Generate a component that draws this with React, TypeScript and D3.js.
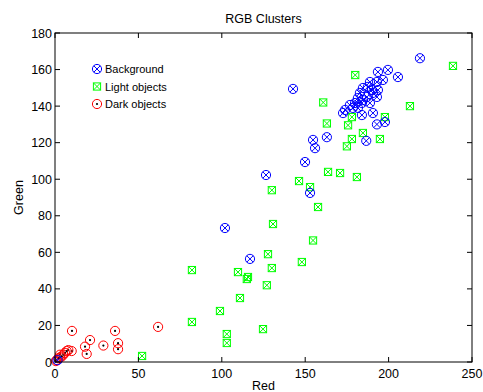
import React from "react";
import * as d3 from "d3";

const backgroundPts: [number, number][] = [
  [199.6, 159.8], [193.6, 158.7], [205.6, 155.9], [196.6, 154.3], [193, 153.2], [188.8, 153.2],
  [187.6, 150.5], [184.6, 149.9], [190, 148.8], [193.6, 148.8], [182.8, 147.2], [190.6, 147.2],
  [187, 145], [193, 145], [184.6, 143.3], [181.6, 144.4], [179.9, 141.7], [184, 141.7],
  [188.8, 141.7], [176.8, 140.6], [178.6, 139], [181.6, 139], [173.9, 137.9], [172.7, 136.2],
  [184, 135.1], [190.6, 136.2], [197.8, 131.3], [193, 130], [142.7, 149.4], [218.8, 166.2],
  [154.7, 121.5], [155.9, 117], [163, 123], [186.6, 121], [149.9, 109.4], [152.9, 92.5],
  [126.5, 102.3], [101.9, 73.3], [116.9, 56.4], [1.5, 1],
];

const lightPts: [number, number][] = [
  [180, 157], [238.6, 162], [160.8, 142], [212.8, 140], [163, 130.5], [175.7, 129.5],
  [178, 134], [197.8, 134], [184.6, 125.3], [178, 122], [194.8, 122], [175, 118],
  [163.7, 104], [170.9, 103.4], [181, 101.2], [146.3, 99], [152.9, 95.7], [130, 94],
  [157.7, 84.8], [130.7, 75.5], [154.7, 66.5], [127.7, 59], [148, 54.7], [130, 51.4],
  [82.1, 50.3], [109.7, 49.2], [115.7, 46.5], [115, 45.4], [127, 42], [110.9, 35],
  [98.9, 27.9], [103, 15.3], [103, 10.4], [124.7, 18], [82.1, 21.9], [52.2, 3.3],
];

const darkPts: [number, number][] = [
  [10.2, 17], [8, 6.5], [10, 6], [6, 5], [3, 4], [18, 8.4], [21, 12], [19, 4.4],
  [29, 9], [36, 17], [37.8, 10.3], [37.8, 7], [61.8, 19.2],
  [0.5, 0.5], [1, 1], [2, 2], [3, 2.5], [4, 3], [5, 4], [7, 6],
];

const xTicks = [0, 50, 100, 150, 200, 250];
const yTicks = [0, 20, 40, 60, 80, 100, 120, 140, 160, 180];
const legendLabels = ["Background", "Light objects", "Dark objects"];

const W = 483, H = 392;
const L = 55, R = 472, T = 33, B = 362;
const FONT = "'Liberation Sans', Arial, sans-serif";

function BgMarker({ x, y }: { x: number; y: number }) {
  const r = 4.6;
  const d = r * Math.SQRT1_2;
  return (
    <g stroke="#0000ff" strokeWidth={1} fill="none">
      <circle cx={x} cy={y} r={r} />
      <line x1={x - d} y1={y - d} x2={x + d} y2={y + d} />
      <line x1={x - d} y1={y + d} x2={x + d} y2={y - d} />
    </g>
  );
}

function LightMarker({ x, y }: { x: number; y: number }) {
  const h = 3.6;
  return (
    <g stroke="#00ff00" strokeWidth={1} fill="none">
      <rect x={x - h} y={y - h} width={2 * h} height={2 * h} />
      <line x1={x - h} y1={y - h} x2={x + h} y2={y + h} />
      <line x1={x - h} y1={y + h} x2={x + h} y2={y - h} />
    </g>
  );
}

function DarkMarker({ x, y }: { x: number; y: number }) {
  return (
    <g>
      <circle cx={x} cy={y} r={4.6} stroke="#ff0000" strokeWidth={1} fill="none" />
      <circle cx={x} cy={y} r={1.1} fill="#000" />
    </g>
  );
}

export default function App() {
  const xs = d3.scaleLinear().domain([0, 250]).range([L, R]);
  const ys = d3.scaleLinear().domain([0, 180]).range([B, T]);
  const tl = 5;
  return (
    <svg width={W} height={H} style={{ position: "absolute", left: 0, top: 0, background: "#fff" }}>
      <rect x={0} y={0} width={W} height={H} fill="#fff" />
      <text x={(L + R) / 2} y={23} textAnchor="middle" fontFamily={FONT} fontSize={12.5}>RGB Clusters</text>
      {darkPts.map((p, i) => <DarkMarker key={"d" + i} x={xs(p[0])} y={ys(p[1])} />)}
      {lightPts.map((p, i) => <LightMarker key={"l" + i} x={xs(p[0])} y={ys(p[1])} />)}
      {backgroundPts.map((p, i) => <BgMarker key={"b" + i} x={xs(p[0])} y={ys(p[1])} />)}
      <rect x={L} y={T} width={R - L} height={B - T} fill="none" stroke="#000" strokeWidth={1} />
      {xTicks.map((t) => (
        <g key={"xt" + t}>
          <line x1={xs(t)} x2={xs(t)} y1={B} y2={B - tl} stroke="#000" />
          <line x1={xs(t)} x2={xs(t)} y1={T} y2={T + tl} stroke="#000" />
          <text x={xs(t)} y={B + 16} textAnchor="middle" fontFamily={FONT} fontSize={12.5}>{t}</text>
        </g>
      ))}
      {yTicks.map((t) => (
        <g key={"yt" + t}>
          <line x1={L} x2={L + tl} y1={ys(t)} y2={ys(t)} stroke="#000" />
          <line x1={R} x2={R - tl} y1={ys(t)} y2={ys(t)} stroke="#000" />
          <text x={L - 3} y={ys(t) + 4.5} textAnchor="end" fontFamily={FONT} fontSize={12.5}>{t}</text>
        </g>
      ))}
      <text x={(L + R) / 2} y={390} textAnchor="middle" fontFamily={FONT} fontSize={12.5}>Red</text>
      <text transform={`translate(23,${(T + B) / 2}) rotate(-90)`} textAnchor="middle" fontFamily={FONT} fontSize={12.5}>Green</text>
      {legendLabels.map((lab, i) => {
        const cy = 69 + i * 17.5;
        return (
          <g key={lab}>
            {i === 0 && <BgMarker x={97} y={cy} />}
            {i === 1 && <LightMarker x={97} y={cy} />}
            {i === 2 && <DarkMarker x={97} y={cy} />}
            <text x={105} y={cy + 4} fontFamily={FONT} fontSize={11}>{lab}</text>
          </g>
        );
      })}
    </svg>
  );
}
